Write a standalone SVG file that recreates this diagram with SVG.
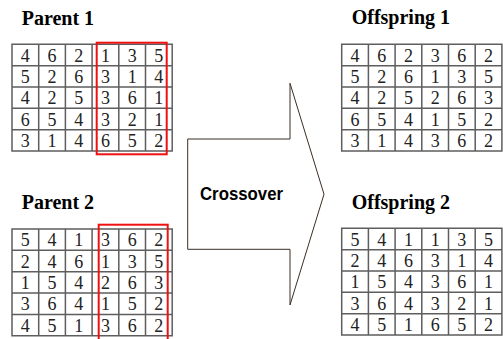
<svg xmlns="http://www.w3.org/2000/svg" width="503" height="339" viewBox="0 0 503 339">
  <style>
    .title { font-family: "Liberation Serif", "Times New Roman", serif; font-weight: bold; font-size: 20px; fill: #000; }
    .num { font-family: "Liberation Serif", "Times New Roman", serif; font-size: 18px; fill: #222; text-anchor: middle; }
    .grid { fill: none; stroke: #5e5e5e; stroke-width: 1.5; }
    .sel { fill: none; stroke: #ee1111; stroke-width: 2; }
    .arrow { fill: #fff; stroke: #3b2f24; stroke-width: 1; }
    .label { font-family: "Liberation Sans", Arial, sans-serif; font-weight: bold; font-size: 18px; fill: #000; }
  </style>
  <defs>
    <!-- 6 x 5 table -->
    <path id="grid" class="grid" d="M0,0 H160.2 V106.75 H0 Z
      M26.7,0 V106.75 M53.4,0 V106.75 M80.1,0 V106.75 M106.8,0 V106.75 M133.5,0 V106.75
      M0,21.35 H160.2 M0,42.7 H160.2 M0,64.05 H160.2 M0,85.4 H160.2"/>
  </defs>

  <rect width="503" height="339" fill="#fff"/>

  <!-- Connector: crossover arrow -->
  <g id="connectors">
    <path class="arrow" d="M187.7,139 H290 V83.3 L324,194.2 L290,305 V249.3 H187.7 Z"/>
    <text class="label" x="200" y="199.5" textLength="83" lengthAdjust="spacingAndGlyphs">Crossover</text>
  </g>

  <g id="parent1">
    <text class="title" x="21.7" y="25">Parent 1</text>
    <g transform="translate(12,44.3)">
      <use href="#grid"/>
      <text class="num" x="13.35 40.05 66.75 93.45 120.15 146.85" y="17.4">462135</text>
      <text class="num" x="13.35 40.05 66.75 93.45 120.15 146.85" y="38.75">526314</text>
      <text class="num" x="13.35 40.05 66.75 93.45 120.15 146.85" y="60.1">425361</text>
      <text class="num" x="13.35 40.05 66.75 93.45 120.15 146.85" y="81.45">654321</text>
      <text class="num" x="13.35 40.05 66.75 93.45 120.15 146.85" y="102.8">314652</text>
      <rect class="sel" x="84.7" y="-1.6" width="70" height="111.6"/>
    </g>
  </g>

  <g id="parent2">
    <text class="title" x="21.7" y="209">Parent 2</text>
    <g transform="translate(12,229)">
      <use href="#grid"/>
      <text class="num" x="13.35 40.05 66.75 93.45 120.15 146.85" y="17.4">541362</text>
      <text class="num" x="13.35 40.05 66.75 93.45 120.15 146.85" y="38.75">246135</text>
      <text class="num" x="13.35 40.05 66.75 93.45 120.15 146.85" y="60.1">154263</text>
      <text class="num" x="13.35 40.05 66.75 93.45 120.15 146.85" y="81.45">364152</text>
      <text class="num" x="13.35 40.05 66.75 93.45 120.15 146.85" y="102.8">451362</text>
      <rect class="sel" x="86.7" y="-4.3" width="69" height="120"/>
    </g>
  </g>

  <g id="offspring1">
    <text class="title" x="351.7" y="24">Offspring 1</text>
    <g transform="translate(341.7,44.3)">
      <use href="#grid"/>
      <text class="num" x="13.35 40.05 66.75 93.45 120.15 146.85" y="17.4">462362</text>
      <text class="num" x="13.35 40.05 66.75 93.45 120.15 146.85" y="38.75">526135</text>
      <text class="num" x="13.35 40.05 66.75 93.45 120.15 146.85" y="60.1">425263</text>
      <text class="num" x="13.35 40.05 66.75 93.45 120.15 146.85" y="81.45">654152</text>
      <text class="num" x="13.35 40.05 66.75 93.45 120.15 146.85" y="102.8">314362</text>
    </g>
  </g>

  <g id="offspring2">
    <text class="title" x="351.7" y="209">Offspring 2</text>
    <g transform="translate(341.7,228.3)">
      <use href="#grid"/>
      <text class="num" x="13.35 40.05 66.75 93.45 120.15 146.85" y="17.4">541135</text>
      <text class="num" x="13.35 40.05 66.75 93.45 120.15 146.85" y="38.75">246314</text>
      <text class="num" x="13.35 40.05 66.75 93.45 120.15 146.85" y="60.1">154361</text>
      <text class="num" x="13.35 40.05 66.75 93.45 120.15 146.85" y="81.45">364321</text>
      <text class="num" x="13.35 40.05 66.75 93.45 120.15 146.85" y="102.8">451652</text>
    </g>
  </g>
</svg>
